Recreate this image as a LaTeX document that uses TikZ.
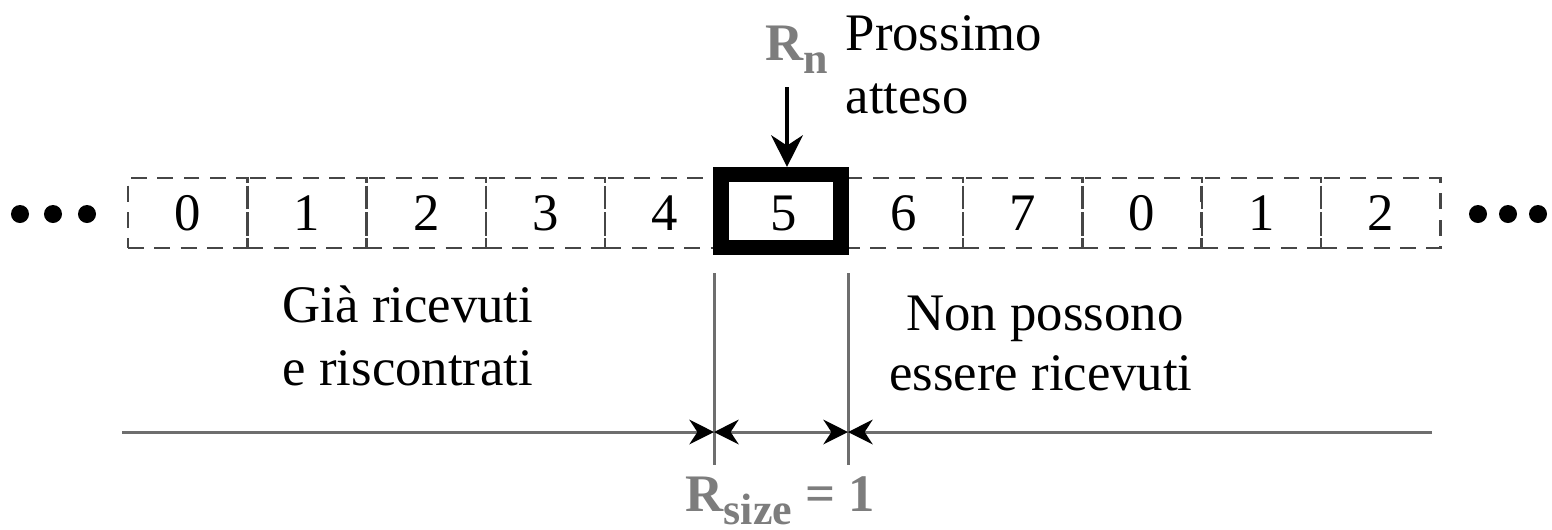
\documentclass[tikz,border=0pt]{standalone}
\usepackage{fontspec}
\setmainfont{Liberation Serif}
\usetikzlibrary{arrows.meta}
\definecolor{lblgray}{RGB}{125,125,125}
\definecolor{linegray}{RGB}{110,110,110}
\definecolor{dashgray}{RGB}{70,70,70}
\newcommand{\lowsub}[1]{\raisebox{-3.8pt}{\fontsize{12.5}{13}\selectfont #1}}
\begin{document}
\begin{tikzpicture}[x=0.01cm,y=-0.01cm,
  every node/.style={font=\fontsize{15}{18}\selectfont, inner sep=0pt},
  cell/.style={draw=dashgray, dashed, dash pattern=on 4.5pt off 3pt, line width=0.7pt,
     minimum width=1.193cm, minimum height=0.70cm},
  winbox/.style={draw=black, line width=4.3pt, minimum width=1.20cm, minimum height=0.73cm},
  dot/.style={circle, fill=black, minimum size=0.18cm},
  guide/.style={draw=linegray, line width=0.85pt},
  dimarrow/.style={draw=linegray, line width=0.85pt, -{Stealth[black,length=7pt,width=7pt]}},
  lbl/.style={text=lblgray, font=\fontsize{15}{18}\selectfont\bfseries}
]
\useasboundingbox (0,0) rectangle (1552,529);
% dots
\node[dot] (dl1) at (20,214) {};
\node[dot] (dl2) at (53,214) {};
\node[dot] (dl3) at (87,214) {};
\node[dot] (dr1) at (1478,214) {};
\node[dot] (dr2) at (1508,214) {};
\node[dot] (dr3) at (1538,214) {};
% cells
\foreach \i/\t in {0/0,1/1,2/2,3/3,4/4,5/5,6/6,7/7,8/0,9/1,10/2}{
  \node[cell] (c\i) at ({128+119.3*(\i+0.5)},213) {\t};
}
\node[winbox] (win) at (781,211) {};
% pointer
\coordinate (ptop) at (787,87);
\draw[line width=1.1pt, -{Stealth[length=9pt,width=9pt]}] (ptop) -- (ptop |- win.north);
\node[lbl, anchor=base west] (rn) at (765,60) {R\lowsub{n}};
\node[anchor=base west] (pross) at (845,50) {Prossimo};
\node[anchor=base west] (att) at (845,113) {atteso};
% guides
\coordinate (gl1) at (714,273);
\coordinate (gl2) at (714,465);
\coordinate (gr1) at (848,273);
\coordinate (gr2) at (848,465);
\draw[guide] (gl1) -- (gl2);
\draw[guide] (gr1) -- (gr2);
% arrows
\coordinate (al) at (122,432);
\coordinate (ar) at (1432,432);
\coordinate (ml) at (714,432);
\coordinate (mr) at (848,432);
\draw[dimarrow] (al) -- (ml);
\draw[dimarrow, {Stealth[black,length=7pt,width=7pt]}-{Stealth[black,length=7pt,width=7pt]}] (ml) -- (mr);
\draw[dimarrow] (ar) -- (mr);
% texts
\node[anchor=base west] (g1) at (282,322) {Già ricevuti};
\node[anchor=base west] (g2) at (282,385) {e riscontrati};
\node[anchor=base] (n1) at (1045,330) {Non possono};
\node[anchor=base] (n2) at (1041,390) {essere ricevuti};
\node[lbl, anchor=base west] (rs) at (685,511) {R\lowsub{size} = 1};
\end{tikzpicture}
\end{document}
